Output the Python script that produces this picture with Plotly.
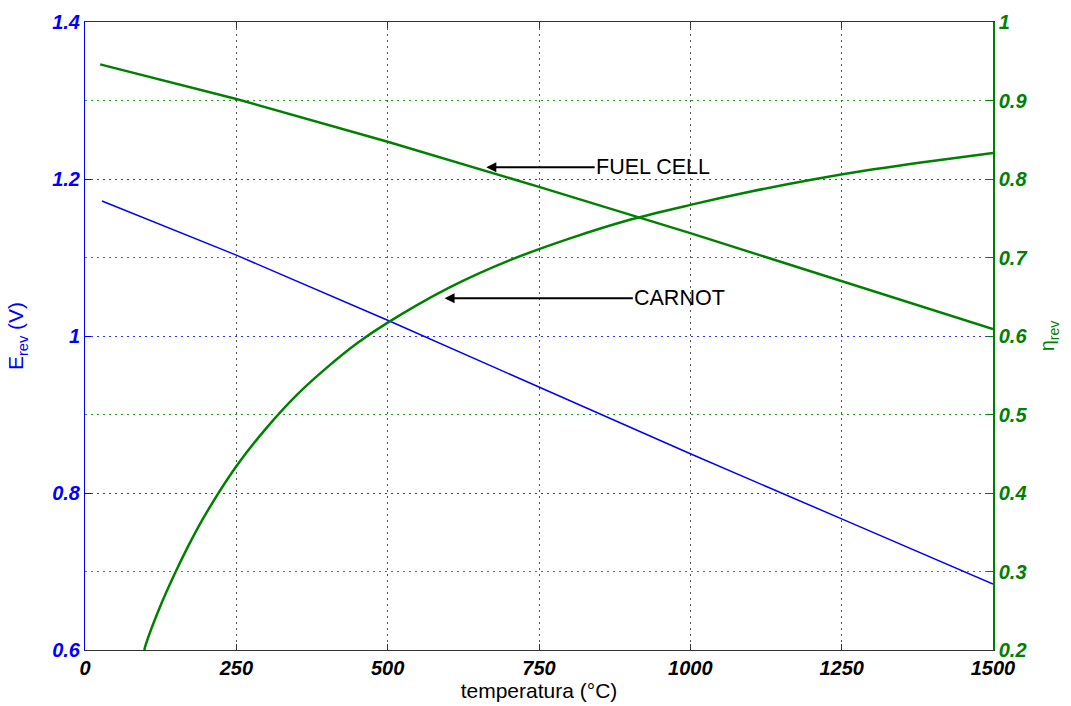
import plotly.graph_objects as go

# ---- data ----
t_erev = [28, 250, 500, 750, 1000, 1250, 1500]
e_rev = [1.172, 1.103, 1.020, 0.935, 0.850, 0.767, 0.684]

t_fc = [25, 250, 500, 750, 1000, 1250, 1500]
eta_fc = [0.946, 0.902, 0.8475, 0.790, 0.731, 0.670, 0.609]

t_carnot = [98, 100, 125, 150, 175, 200, 250, 300, 350, 400, 450, 500, 600, 700,
            800, 900, 1000, 1100, 1200, 1300, 1400, 1500]
eta_carnot = [0.200, 0.206, 0.257, 0.300, 0.339, 0.374, 0.434, 0.483, 0.525, 0.560,
              0.591, 0.617, 0.661, 0.696, 0.724, 0.748, 0.767, 0.784, 0.799, 0.812,
              0.823, 0.833]

x_ticks = [0, 250, 500, 750, 1000, 1250, 1500]
y_left_ticks = [0.6, 0.8, 1.0, 1.2, 1.4]
y_left_labels = ["0.6", "0.8", "1", "1.2", "1.4"]
y_right_ticks = [0.2, 0.3, 0.4, 0.5, 0.6, 0.7, 0.8, 0.9, 1.0]
y_right_labels = ["0.2", "0.3", "0.4", "0.5", "0.6", "0.7", "0.8", "0.9", "1"]

BLUE = "#0000ff"
GREEN = "#008000"
FONT = "Liberation Sans, Arial, sans-serif"
DOT = "2px,4px"

fig = go.Figure()
fig.add_trace(go.Scatter(x=t_erev, y=e_rev, mode="lines",
                         line=dict(color=BLUE, width=1.5), yaxis="y", showlegend=False))
fig.add_trace(go.Scatter(x=t_fc, y=eta_fc, mode="lines",
                         line=dict(color=GREEN, width=2.5), yaxis="y2", showlegend=False))
fig.add_trace(go.Scatter(x=t_carnot, y=eta_carnot, mode="lines", line_shape="spline",
                         line=dict(color=GREEN, width=2.5), yaxis="y2", showlegend=False))

tickfont = dict(family=FONT, size=20, weight="bold", style="italic")

fig.update_layout(
    width=1071, height=706,
    margin=dict(l=85, r=78, t=22, b=56),
    paper_bgcolor="white", plot_bgcolor="white",
    font=dict(family=FONT),
    xaxis=dict(
        range=[0, 1500], tickvals=x_ticks, ticktext=[str(v) for v in x_ticks],
        ticks="inside", ticklen=6, tickcolor="#333333",
        showline=True, linecolor="#333333", linewidth=1, mirror="ticks",
        showgrid=True, gridcolor="#555555", griddash=DOT, gridwidth=1,
        zeroline=False,
        tickfont=dict(tickfont, color="black"),
        title=dict(text="temperatura (°C)", font=dict(family=FONT, size=21, color="black"),
                   standoff=4),
        automargin=False,
    ),
    yaxis=dict(
        range=[0.6, 1.4], tickvals=y_left_ticks, ticktext=y_left_labels,
        ticks="inside", ticklen=6, tickcolor=BLUE,
        showline=True, linecolor=BLUE, linewidth=1,
        showgrid=True, gridcolor="#3333ff", griddash=DOT, gridwidth=1,
        zeroline=False,
        tickfont=dict(tickfont, color=BLUE),
        title=dict(text="E<sub>rev</sub> (V)", font=dict(family=FONT, size=21, color=BLUE),
                   standoff=22),
        automargin=False,
    ),
    yaxis2=dict(
        range=[0.2, 1.0], tickvals=y_right_ticks, ticktext=y_right_labels,
        overlaying="y", side="right",
        ticks="inside", ticklen=6, tickcolor=GREEN,
        showline=True, linecolor=GREEN, linewidth=1.5,
        showgrid=False, zeroline=False,
        minor=dict(tickmode="array", tickvals=[0.3, 0.5, 0.7, 0.9], showgrid=True,
                   gridcolor="#22a022", griddash=DOT, gridwidth=1, ticks=""),
        tickfont=dict(tickfont, color=GREEN),
        title=dict(text="η<sub>rev</sub>", font=dict(family=FONT, size=20, color=GREEN),
                   standoff=14),
        automargin=False,
    ),
)

# arrows with labels
fig.add_annotation(x=663, y=1.215, xref="x", yref="y", ax=842, ay=1.215, axref="x", ayref="y",
                   text="FUEL CELL", xanchor="left", showarrow=True, arrowhead=2, arrowsize=1,
                   arrowwidth=2, arrowcolor="black", standoff=0, startstandoff=0,
                   font=dict(family=FONT, size=21.5, color="black"), borderpad=0)
fig.add_annotation(x=594, y=1.048, xref="x", yref="y", ax=905, ay=1.048, axref="x", ayref="y",
                   text="CARNOT", xanchor="left", showarrow=True, arrowhead=2, arrowsize=1,
                   arrowwidth=2, arrowcolor="black", standoff=0, startstandoff=0,
                   font=dict(family=FONT, size=21.5, color="black"), borderpad=0)

fig.write_html("out.html")
